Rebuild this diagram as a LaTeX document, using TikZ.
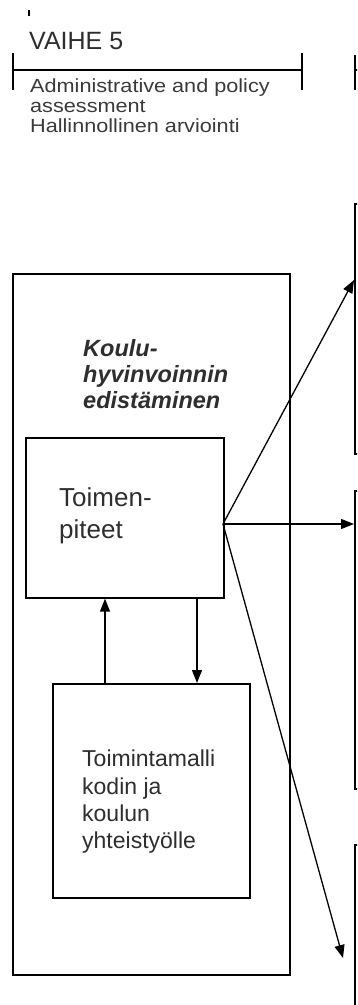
\documentclass[tikz,border=0pt]{standalone}
\usepackage{fontspec}
\setmainfont{Liberation Sans}
\newfontfamily\widesans[FakeStretch=1.14]{Liberation Sans}
\usetikzlibrary{arrows.meta}
\definecolor{txtgray}{HTML}{2E2E2E}
\definecolor{lightgray}{HTML}{3A3A3A}
\tikzset{
  boxstyle/.style={draw=black, line width=1.6pt, minimum width=#1, inner sep=0pt, anchor=north west},
  textstyle/.style={inner sep=0pt, anchor=north west, align=left, text=txtgray},
  conn/.style={line width=1.3pt, -{Triangle[length=13pt,width=10pt]}},
  rule/.style={line width=1.5pt}
}
\begin{document}
\begin{tikzpicture}[x=1pt,y=-1pt]
\useasboundingbox (0,0) rectangle (357,1005);
\fill[white] (0,0) rectangle (357,1005);
\clip (0,0) rectangle (357,1005);

% header
\draw[rule, line width=2pt] (29,10) -- (29,16);
\node[textstyle, font=\fontsize{25}{28}\selectfont] (vaihe) at (29,32) {VAIHE 5};
\coordinate (bl) at (13,70);
\coordinate (br) at (302,70);
\draw[rule] (bl) -- (br);
\draw[rule] (13,53) -- (13,90);
\draw[rule] (302,53) -- (302,90);
\draw[rule] (355,55) -- (355,90);
\draw[rule] (355,70) -- (362,70);
\node[textstyle, text=lightgray, font=\widesans\fontsize{19}{20}\selectfont] (admin) at (30,79) {Administrative and policy\\ assessment\\ Hallinnollinen arviointi};

% outer box
\node[boxstyle=277pt, minimum height=701pt] (outer) at (12,273) {};
\node[textstyle, font=\fontsize{23.5}{26}\selectfont\bfseries\itshape] (koulu) at (83,339) {Koulu-\\ hyvinvoinnin\\ edistäminen};

% inner boxes
\node[boxstyle=198pt, minimum height=160pt] (toim) at (25,437) {};
\node[textstyle, font=\fontsize{26}{32}\selectfont] (toimtxt) at (59,487) {Toimen-\\ piteet};
\node[boxstyle=197pt, minimum height=214pt] (malli) at (52,683) {};
\node[textstyle, font=\fontsize{23}{27.3}\selectfont] (mallitxt) at (82,750) {Toimintamalli\\ kodin ja\\ koulun\\ yhteistyölle};

% right boxes (cut off)
\node[boxstyle=40pt, minimum height=250pt] (ra) at (354,203) {};
\node[boxstyle=40pt, minimum height=298pt] (rb) at (354,490) {};
\node[boxstyle=40pt, minimum height=200pt] (rc) at (354,844) {};

% connectors
\coordinate (src) at (223,524);
\coordinate (ta) at (354,280);
\coordinate (tb) at (354,524);
\coordinate (tc) at (343,958);
\draw[conn] (src) -- (ta);
\draw[conn] (src) -- (tb);
\draw[conn] (src) -- (tc);
\draw[conn] (malli.north -| 105,0) -- (toim.south -| 105,0);
\draw[conn] (toim.south -| 197,0) -- (malli.north -| 197,0);
\end{tikzpicture}
\end{document}
